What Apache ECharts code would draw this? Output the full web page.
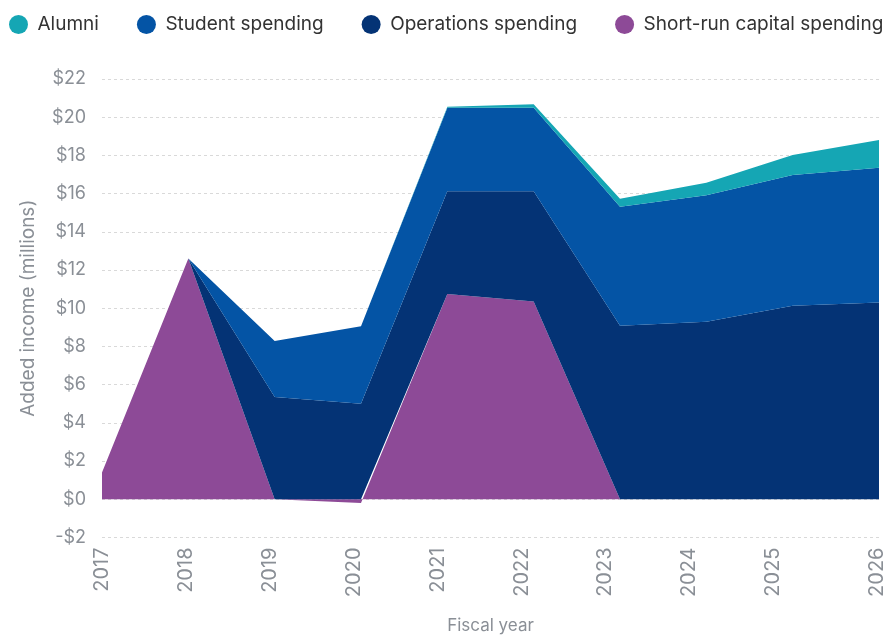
<!DOCTYPE html>
<html>
<head>
<meta charset="utf-8">
<script src="https://cdn.jsdelivr.net/npm/echarts@6/dist/echarts.min.js"></script>
<style>
  html, body { margin: 0; padding: 0; background: #fff; }
  #chart { width: 883px; height: 636px; }
</style>
</head>
<body>
<div id="chart"></div>
<script>
// fiscal years
var years = ['2017', '2018', '2019', '2020', '2021', '2022', '2023', '2024', '2025', '2026'];
// added income per source, millions (each stacked on the one before)
var capital    = [1.4, 12.6, 0, -0.2, 10.75, 10.35, 0, 0, 0, 0];
var operations = [0, 0, 5.35, 5.0, 5.38, 5.78, 9.08, 9.29, 10.13, 10.3];
var student    = [0, 0, 2.93, 4.06, 4.37, 4.37, 6.23, 6.63, 6.84, 7.06];
var alumni     = [0, 0, 0, 0, 0.05, 0.18, 0.42, 0.65, 1.05, 1.45];

var yTicks = [-2, 0, 2, 4, 6, 8, 10, 12, 14, 16, 18, 20, 22];
// where the year labels sit on the label axis (the last one is pushed to the edge)
var labelAt = [2017, 2018, 2019, 2020, 2021, 2022, 2023, 2024, 2025, 2026.24];

var colors = {
  alumni: '#15a6b4',
  student: '#0454a5',
  operations: '#043375',
  capital: '#8d4a97'
};

var font = 'Inter, "Noto Sans", sans-serif';

function areaSeries(name, vals, color) {
  return {
    name: name,
    type: 'line',
    stack: 'total',
    data: vals,
    symbol: 'none',
    lineStyle: { width: 0 },
    itemStyle: { color: color },
    areaStyle: { color: color, opacity: 1 },
    silent: true
  };
}

var myChart = echarts.init(document.getElementById('chart'));
var option = {
  animation: false,
  textStyle: { fontFamily: font },
  legend: {
    data: ['Alumni', 'Student spending', 'Operations spending', 'Short-run capital spending'],
    left: 4,
    top: 10,
    width: 1200,
    icon: 'circle',
    itemWidth: 28,
    itemHeight: 19,
    itemGap: 38,
    textStyle: { fontSize: 19, color: '#333', fontFamily: font }
  },
  grid: {
    left: 102,
    right: 4,
    top: 79,
    bottom: 98.5,
    outerBoundsMode: 'none'
  },
  xAxis: [{
    type: 'category',
    data: years,
    boundaryGap: false,
    axisLine: { show: false },
    axisTick: { show: false },
    axisLabel: { show: false },
    splitLine: { show: false }
  }, {
    // label axis, tick labels sit a little tighter than the data points
    type: 'value',
    position: 'bottom',
    min: 2017,
    max: 2026.26,
    name: 'Fiscal year',
    nameLocation: 'middle',
    nameGap: 80,
    nameTextStyle: { fontSize: 17, color: '#8a8f96', fontFamily: font },
    axisLine: { show: false },
    axisTick: { show: false },
    splitLine: { show: false },
    axisLabel: {
      rotate: 90,
      margin: 10,
      fontSize: 20,
      color: '#8a8f96',
      showMinLabel: true,
      showMaxLabel: true,
      customValues: labelAt,
      formatter: function (v) { return String(Math.round(v)); }
    }
  }],
  yAxis: {
    type: 'value',
    min: yTicks[0],
    max: yTicks[yTicks.length - 1],
    interval: 2,
    name: 'Added income (millions)',
    nameLocation: 'middle',
    nameGap: 64,
    nameTextStyle: { fontSize: 19, color: '#8a8f96', fontFamily: font },
    axisLine: { show: false },
    axisTick: { show: false },
    axisLabel: {
      margin: 16,
      fontSize: 18,
      color: '#8a8f96',
      formatter: function (v) {
        return v < 0 ? '-$' + Math.abs(v) : '$' + v;
      }
    },
    splitLine: {
      lineStyle: { color: '#d9d9d9', type: [3, 3], width: 1 }
    }
  },
  series: [
    areaSeries('Short-run capital spending', capital, colors.capital),
    areaSeries('Operations spending', operations, colors.operations),
    areaSeries('Student spending', student, colors.student),
    areaSeries('Alumni', alumni, colors.alumni)
  ]
};
myChart.setOption(option);
</script>
</body>
</html>
